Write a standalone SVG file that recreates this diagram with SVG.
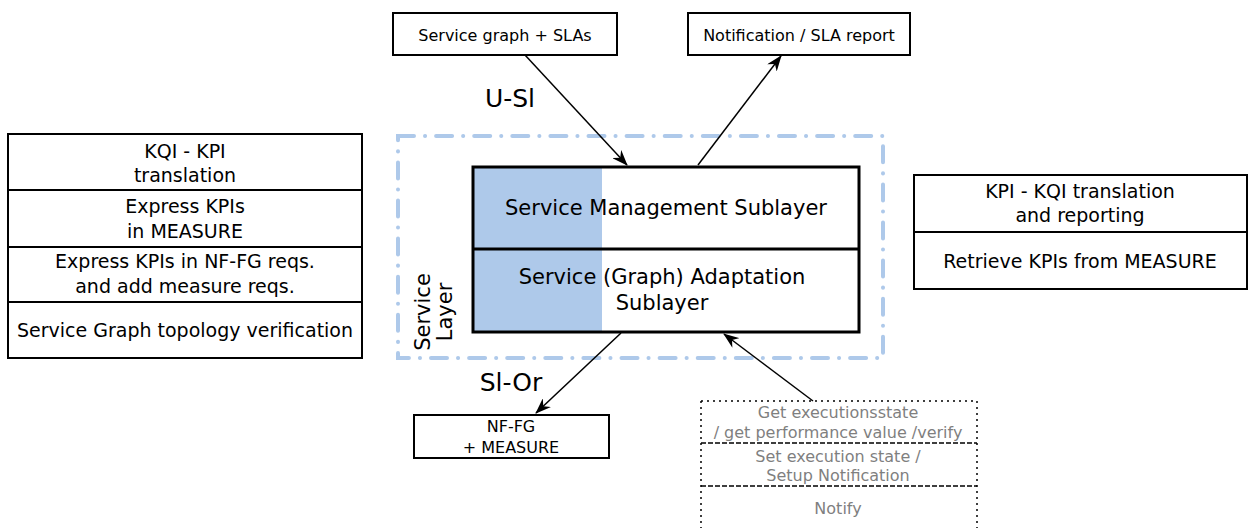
<svg xmlns="http://www.w3.org/2000/svg" width="1250" height="528" viewBox="0 0 1250 528">
<style>
  text { font-family: "DejaVu Sans", "Liberation Sans", sans-serif; fill: #000; text-anchor: middle; }
  .box { fill: #fff; stroke: #000; stroke-width: 2; }
  .thick { fill: none; stroke: #000; stroke-width: 3; }
  .blue { fill: #aec9ea; stroke: none; }
  .layer { fill: none; stroke: #aec9ea; stroke-width: 4; stroke-linecap: round; stroke-dasharray: 16 11 0.1 11; }
  .conn { stroke: #000; stroke-width: 1.5; fill: none; marker-end: url(#ah); }
  .dot { fill: none; stroke: #000; stroke-width: 1.5; stroke-dasharray: 2 4; }
  .dash { fill: none; stroke: #000; stroke-width: 1.5; stroke-dasharray: 5 2; }
  .gray { fill: #7f7f7f; font-size: 16px; }
  .t16 { font-size: 16px; }
  .t18 { font-size: 19px; }
  .t21 { font-size: 21px; }
  .t25 { font-size: 25px; }
</style>
<defs>
  <marker id="ah" markerWidth="16" markerHeight="12" refX="15" refY="6" orient="auto" markerUnits="userSpaceOnUse">
    <path d="M0,0 L16,6 L0,12 L5,6 z" fill="#000"/>
  </marker>
</defs>

<g id="service-layer">
  <rect class="layer" x="398" y="136" width="485" height="222"/>
  <text class="t21" transform="translate(430,312) rotate(-90)">Service</text>
  <text class="t21" transform="translate(452,312) rotate(-90)">Layer</text>
</g>

<g id="top-sla">
  <rect class="box" x="393" y="13" width="224" height="42"/>
  <text class="t16" x="505" y="41">Service graph + SLAs</text>
</g>

<g id="top-report">
  <rect class="box" x="688" y="13" width="222" height="42"/>
  <text class="t16" x="799" y="41">Notification / SLA report</text>
</g>

<g id="left-stack">
  <rect class="box" x="8" y="134" width="354" height="224"/>
  <line x1="8" y1="190" x2="362" y2="190" stroke="#000" stroke-width="2"/>
  <line x1="8" y1="247" x2="362" y2="247" stroke="#000" stroke-width="2"/>
  <line x1="8" y1="302" x2="362" y2="302" stroke="#000" stroke-width="2"/>
  <text class="t18" x="185" y="158">KQI - KPI</text>
  <text class="t18" x="185" y="182">translation</text>
  <text class="t18" x="185" y="213">Express KPIs</text>
  <text class="t18" x="185" y="238">in MEASURE</text>
  <text class="t18" x="185" y="268">Express KPIs in NF-FG reqs.</text>
  <text class="t18" x="185" y="293">and add measure reqs.</text>
  <text class="t18" x="185" y="337">Service Graph topology verification</text>
</g>

<g id="right-stack">
  <rect class="box" x="914" y="175" width="333" height="114"/>
  <line x1="914" y1="232" x2="1247" y2="232" stroke="#000" stroke-width="2"/>
  <text class="t18" x="1080" y="198">KPI - KQI translation</text>
  <text class="t18" x="1080" y="222">and reporting</text>
  <text class="t18" x="1080" y="268">Retrieve KPIs from MEASURE</text>
</g>

<g id="main-box">
  <rect x="473" y="167" width="386" height="165" fill="#fff"/>
  <rect class="blue" x="473" y="167" width="129" height="165"/>
  <rect class="thick" x="473" y="167" width="386" height="165"/>
  <line x1="473" y1="249" x2="859" y2="249" stroke="#000" stroke-width="3"/>
  <text class="t21" x="666" y="215">Service Management Sublayer</text>
  <text class="t21" x="662" y="284">Service (Graph) Adaptation</text>
  <text class="t21" x="662" y="310">Sublayer</text>
</g>

<g id="nffg">
  <rect class="box" x="414" y="415" width="195" height="43"/>
  <text class="t16" x="511" y="432">NF-FG</text>
  <text class="t16" x="511" y="453">+ MEASURE</text>
</g>

<g id="ops">
  <rect x="701" y="401" width="276" height="140" fill="#fff"/>
  <line class="dot" x1="701" y1="401" x2="977" y2="401"/>
  <line class="dot" x1="701" y1="401" x2="701" y2="528"/>
  <line class="dot" x1="977" y1="401" x2="977" y2="528"/>
  <line class="dash" x1="701" y1="443" x2="977" y2="443"/>
  <line class="dash" x1="701" y1="486" x2="977" y2="486"/>
  <text class="gray" x="838" y="418">Get executionsstate</text>
  <text class="gray" x="838" y="438">/ get performance value /verify</text>
  <text class="gray" x="838" y="462">Set execution state /</text>
  <text class="gray" x="838" y="481">Setup Notification</text>
  <text class="gray" x="838" y="514">Notify</text>
</g>

<g id="connectors">
  <line class="conn" x1="525" y1="55" x2="627" y2="165"/>
  <line class="conn" x1="698" y1="165" x2="781" y2="56"/>
  <line class="conn" x1="621" y1="333" x2="536" y2="413"/>
  <line class="conn" x1="813" y1="401" x2="724" y2="334"/>
  <text class="t25" x="510" y="107">U-Sl</text>
  <text class="t25" x="511" y="391">Sl-Or</text>
</g>
</svg>
